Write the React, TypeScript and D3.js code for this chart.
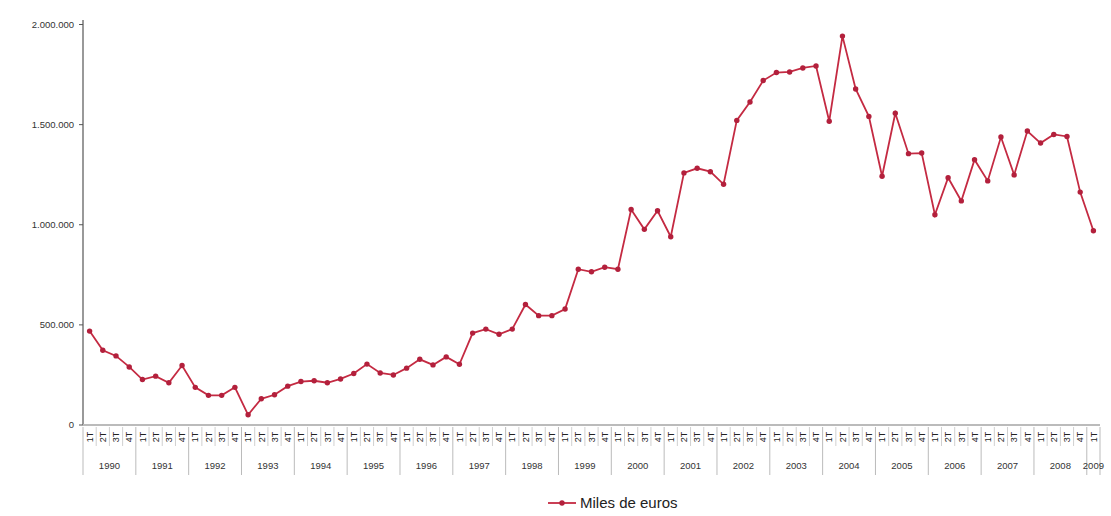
import React from "react";
import * as d3 from "d3";

const years = ["1990","1991","1992","1993","1994","1995","1996","1997","1998","1999","2000","2001","2002","2003","2004","2005","2006","2007","2008","2009"];
const quarterLabels = ["1T","2T","3T","4T"];
const yTicks = [0, 500000, 1000000, 1500000, 2000000];
const seriesName = "Miles de euros";
const values = [
  469000, 373000, 345000, 290000,
  227000, 244000, 211000, 297000,
  188000, 148000, 148000, 188000,
  51000, 131000, 151000, 194000,
  217000, 221000, 211000, 230000,
  257000, 304000, 260000, 250000,
  284000, 328000, 300000, 340000,
  303000, 459000, 479000, 453000,
  479000, 602000, 546000, 546000,
  579000, 778000, 765000, 788000,
  778000, 1076000, 977000, 1070000,
  940000, 1259000, 1282000, 1265000,
  1202000, 1521000, 1613000, 1720000,
  1760000, 1763000, 1783000, 1793000,
  1517000, 1942000, 1678000, 1541000,
  1242000, 1557000, 1355000, 1358000,
  1050000, 1235000, 1119000, 1325000,
  1219000, 1438000, 1249000, 1468000,
  1408000, 1451000, 1441000, 1163000,
  970000,
];

const W = 1111, H = 516;
const left = 83, right = 1100, top = 24, bottom = 425;
const font = "'Liberation Sans', Arial, sans-serif";
const red = "#c42a42";

export default function App() {
  const cats = values.map((_, i) => `${years[Math.floor(i / 4)]}-${quarterLabels[i % 4]}`);
  const x = d3.scaleBand<string>().domain(cats).range([left, right]).padding(0);
  const y = d3.scaleLinear().domain([0, 2000000]).range([bottom, top + 0.5]);
  const fmt = (v: number) => d3.format(",")(v).replace(/,/g, ".");
  const cx = (i: number) => (x(cats[i]) as number) + x.bandwidth() / 2;
  const line = d3.line<number>().x((_, i) => cx(i)).y((d) => y(d));
  const bw = x.bandwidth();

  const yearGroups = years.map((yr, yi) => {
    const idx = values.map((_, i) => i).filter((i) => Math.floor(i / 4) === yi);
    return { yr, start: idx[0], end: idx[idx.length - 1] };
  }).filter((g) => g.start !== undefined);

  return (
    <svg width={W} height={H} style={{ position: "absolute", left: 0, top: 0, background: "#fff" }} fontFamily={font}>
      {/* y axis */}
      <line x1={left} x2={left} y1={top - 4} y2={bottom} stroke="#555" strokeWidth={1.2} />
      {yTicks.map((t) => (
        <g key={t}>
          <line x1={left - 4} x2={left} y1={y(t)} y2={y(t)} stroke="#555" />
          <text x={left - 9} y={y(t)} dy="0.35em" textAnchor="end" fontSize={9.5} fill="#333">{fmt(t)}</text>
        </g>
      ))}
      {/* x axis baseline */}
      <line x1={left} x2={right} y1={bottom} y2={bottom} stroke="#bbb" strokeWidth={2} />
      {/* quarter separators & labels */}
      {values.map((_, i) => (
        <g key={i}>
          <line x1={x(cats[i]) as number} x2={x(cats[i]) as number} y1={bottom + 2} y2={i % 4 === 0 ? bottom + 50 : bottom + 21} stroke={i % 4 === 0 ? "#bbb" : "#d0d0d0"} strokeWidth={1} />
          <text transform={`translate(${cx(i) + 3.2},${bottom + 12}) rotate(-90)`} textAnchor="middle" fontSize={9} fill="#222">{quarterLabels[i % 4]}</text>
        </g>
      ))}
      <line x1={right} x2={right} y1={bottom + 2} y2={bottom + 50} stroke="#bbb" />
      {yearGroups.map((g) => (
        <text key={g.yr} x={((x(cats[g.start]) as number) + (x(cats[g.end]) as number) + bw) / 2} y={bottom + 44} textAnchor="middle" fontSize={9.5} fill="#333">{g.yr}</text>
      ))}
      {/* series */}
      <path d={line(values) || ""} fill="none" stroke={red} strokeWidth={1.8} />
      {values.map((v, i) => (
        <circle key={i} cx={cx(i)} cy={y(v)} r={2.7} fill="#b3203c" />
      ))}
      {/* legend */}
      <line x1={548} x2={576} y1={503} y2={503} stroke={red} strokeWidth={1.8} />
      <circle cx={562} cy={503} r={2.7} fill="#b3203c" />
      <text x={580} y={503} dy="0.35em" fontSize={15} fill="#222">{seriesName}</text>
    </svg>
  );
}
